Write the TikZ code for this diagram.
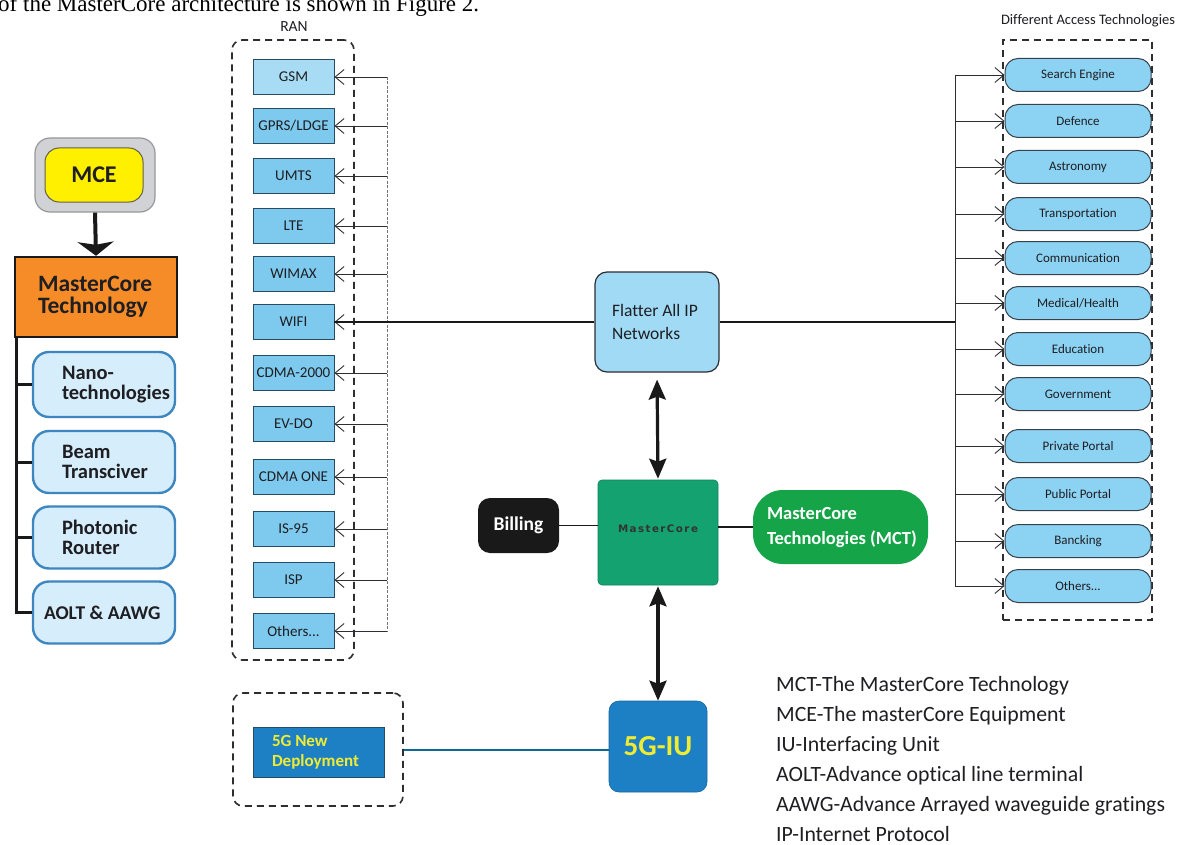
\documentclass[tikz,border=0pt]{standalone}
\usepackage{fontspec}
\setmainfont{Carlito}[Ligatures=NoCommon]
\newfontfamily\seriffont{Liberation Serif}
\newfontfamily\mcfont{DejaVu Sans}[LetterSpace=14]
\usetikzlibrary{arrows.meta}
\newcommand\othtxt{Others...}
\newcommand\nsp{\spaceskip=0pt\xspaceskip=0pt\relax}
\definecolor{ranfill}{RGB}{125,202,238}
\definecolor{gsmfill}{RGB}{168,220,244}
\definecolor{ranborder}{RGB}{40,75,100}
\definecolor{appfill}{RGB}{140,210,242}
\definecolor{appborder}{RGB}{55,65,75}
\definecolor{techfill}{RGB}{214,238,251}
\definecolor{techborder}{RGB}{62,134,192}
\definecolor{orangebox}{RGB}{245,140,40}
\definecolor{mceyellow}{RGB}{255,240,0}
\definecolor{mcegray}{RGB}{208,210,214}
\definecolor{mceedge}{RGB}{150,152,156}
\definecolor{flatfill}{RGB}{160,218,245}
\definecolor{mcgreen}{RGB}{20,163,112}
\definecolor{mctgreen}{RGB}{22,164,72}
\definecolor{billblack}{RGB}{25,25,25}
\definecolor{iublue}{RGB}{30,128,196}
\definecolor{iuyellow}{RGB}{240,236,50}
\definecolor{tealline}{RGB}{15,105,150}
\definecolor{textdark}{RGB}{30,30,35}
\definecolor{linedark}{RGB}{45,45,50}
\tikzset{
  ranbox/.style={draw=ranborder, line width=0.9, fill=ranfill, minimum width=81, minimum height=35, inner sep=0, font=\fontsize{15}{17}\selectfont, text=textdark},
  appbox/.style={draw=appborder, line width=1, fill=appfill, rounded corners=13, minimum width=146, minimum height=33, inner sep=0, font=\fontsize{13}{15}\selectfont, text=textdark},
  techbox/.style={draw=techborder, line width=2.4, fill=techfill, rounded corners=16, minimum width=142, minimum height=62, inner xsep=29, inner ysep=0, text width=84, align=left, font=\bfseries\fontsize{20.5}{20.5}\selectfont, text=textdark},
  dashbox/.style={draw=linedark, line width=1.6, dash pattern=on 7pt off 5pt},
  barb/.style={-{Straight Barb[length=9pt,width=15pt]}, line width=0.9, draw=linedark},
  dbl/.style={{Stealth[length=20pt,width=17pt,inset=3pt]}-{Stealth[length=20pt,width=17pt,inset=3pt]}, line width=3.2, draw=billblack},
  tree/.style={line width=3, draw=billblack},
  plain/.style={line width=1.8, draw=billblack},
  lbl/.style={inner sep=0, font=\fontsize{14.5}{16}\selectfont, text=textdark}
}
\begin{document}
\begin{tikzpicture}[x=1pt,y=-1pt]
\useasboundingbox[fill=white] (0,0) rectangle (1182,845);

% cut-off caption line at top (as in the reference)
\node[anchor=base west, inner sep=0, font=\seriffont\fontsize{23}{25}\selectfont] (caption) at (-2,12) {of the MasterCore architecture is shown in Figure 2.};

% ---------- left column ----------
\node[draw=mceedge, line width=1.2, fill=mcegray, rounded corners=15, minimum width=120, minimum height=74] (mceout) at (95,175) {};
\node[draw=black!70!yellow, line width=1, fill=mceyellow, rounded corners=14, minimum width=98, minimum height=54, font=\bfseries\fontsize{24}{26}\selectfont, text=textdark] (mce) at (94,175) {MCE};
\node[draw=billblack, line width=2.4, fill=orangebox, minimum width=162, minimum height=80, inner xsep=23, inner ysep=0, text width=116, align=left, font=\bfseries\fontsize{23.5}{22.5}\selectfont, text=textdark] (mctech) at (96,297) {MasterCore\\Technology};
\draw[line width=4, draw=billblack, -{Stealth[length=14pt,width=36pt,inset=3pt]}] (mceout.south) -- (mctech.north);

\node[techbox, minimum height=65] (nano) at (104,384.5) {Nano-\\technologies};
\node[techbox] (beam) at (104,462) {Beam\\Transciver};
\node[techbox] (photon) at (104,537.5) {Photonic\\Router};
\node[techbox, inner xsep=11, text width=120, font=\bfseries\fontsize{19.5}{20}\selectfont] (aolt) at (104,612.5) {\nsp\mbox{AOLT \& AAWG}};
\coordinate (trunk) at (16.5,337);
\draw[tree] (trunk) |- (aolt.west);
\foreach \n in {nano,beam,photon} \draw[tree] (trunk |- \n.west) -- (\n.west);

% ---------- RAN ----------
\node[lbl, font=\fontsize{15.5}{17}\selectfont] (ranlbl) at (294,27) {RAN};
\node[dashbox, rounded corners=10, minimum width=122, minimum height=620] (ran) at (293,350) {};
\foreach \nm/\t/\y/\f in {gsm/GSM/77/gsmfill, gprs/{GPRS/LDGE}/126/ranfill, umts/UMTS/176/ranfill, lte/LTE/226/ranfill, wimax/WIMAX/274/ranfill, wifi/WIFI/322/ranfill, cdma/CDMA-2000/373/ranfill, evdo/EV-DO/424/ranfill, cdmaone/CDMA ONE/477/ranfill, is/IS-95/529/ranfill, isp/ISP/580/ranfill, oth/\othtxt/631/ranfill}{
  \node[ranbox, fill=\f] (\nm) at (293.5,\y) {\t};
  \coordinate (rb\nm) at (387,\y);
  \draw[barb] (rb\nm) -- (\nm.east);
}
\draw[line width=0.8, draw=black!55, dash pattern=on 3pt off 1.5pt] (rbgsm) -- (rboth);

% ---------- centre ----------
\node[draw=linedark, line width=1.2, fill=flatfill, rounded corners=12, minimum width=124, minimum height=100, inner xsep=17, inner ysep=0, text width=90, align=left, font=\fontsize{17.5}{23}\selectfont, text=textdark] (flat) at (657,322) {\nsp\mbox{Flatter All IP}\\Networks};
\draw[plain] (wifi.east) -- (flat.west);

\node[fill=mcgreen, draw=mcgreen!80!black, line width=0.6, rounded corners=4, minimum width=120, minimum height=105, font=\mcfont\bfseries\fontsize{10.3}{12}\selectfont, text=black!80] (mc) at (658,532.5) {\raisebox{7pt}{MasterCore}};
\node[fill=billblack, rounded corners=12, minimum width=81, minimum height=55, font=\bfseries\fontsize{19.5}{21}\selectfont, text=white] (bill) at (518.5,525.5) {Billing};
\node[fill=mctgreen, rounded corners=30, minimum width=175, minimum height=74, inner xsep=14, inner ysep=0, text width=147, align=left, font=\bfseries\fontsize{18.5}{25}\selectfont, text=white] (mct) at (840.5,527) {\nsp MasterCore\\\mbox{Technologies (MCT)}};
\draw[plain] (bill.east) -- (bill.east -| mc.west);
\draw[plain] (mc.east |- mct.west) -- (mct.west);
\draw[dbl, shorten <=7pt, shorten >=1pt] (flat.south) -- (mc.north);

\node[fill=iublue, draw=iublue!80!black, line width=0.6, rounded corners=10, minimum width=98, minimum height=91, font=\bfseries\fontsize{29}{31}\selectfont, text=iuyellow] (iu) at (658,746.5) {5G-IU};
\draw[dbl, shorten <=1pt, shorten >=0pt] (mc.south) -- (iu.north);

\node[dashbox, rounded corners=10, minimum width=170, minimum height=113] (depbox) at (318,749.5) {};
\node[fill=iublue, draw=ranborder, line width=0.9, minimum width=131, minimum height=50, inner xsep=19, inner ysep=0, text width=93, align=left, font=\bfseries\fontsize{17}{20}\selectfont, text=iuyellow] (dep) at (318.5,752) {\nsp 5G New\\Deployment};
\draw[line width=2, draw=tealline] (depbox.east) -- (depbox.east -| iu.west);

% ---------- right column ----------
\node[lbl, font=\fontsize{14.5}{16}\selectfont] (acclbl) at (1088,21) {Different Access Technologies};
\node[dashbox, line width=1.8, minimum width=149, minimum height=580] (acc) at (1077.5,330) {};
\foreach \nm/\t/\y in {se/Search Engine/75, def/Defence/121, ast/Astronomy/167, tra/Transportation/214, com/Communication/258, med/{Medical/Health}/303, edu/Education/349, gov/Government/394, pri/Private Portal/446, pub/Public Portal/494, ban/Bancking/541, aoth/\othtxt/586}{
  \node[appbox] (\nm) at (1078,\y) {\t};
  \coordinate (ab\nm) at (955,\y);
  \draw[barb] (ab\nm) -- (\nm.west);
}
\draw[line width=0.9, draw=linedark] (abse) -- (abaoth);
\coordinate (abflat) at (955,322);
\draw[plain] (flat.east) -- (abflat);

% ---------- legend ----------
\node[anchor=north west, inner sep=0, align=left, font=\fontsize{21.8}{30}\selectfont, text=textdark] (legend) at (776,676) {MCT-The MasterCore Technology\\MCE-The masterCore Equipment\\IU-Interfacing Unit\\AOLT-Advance optical line terminal\\AAWG-Advance Arrayed waveguide gratings\\IP-Internet Protocol};
\end{tikzpicture}
\end{document}
